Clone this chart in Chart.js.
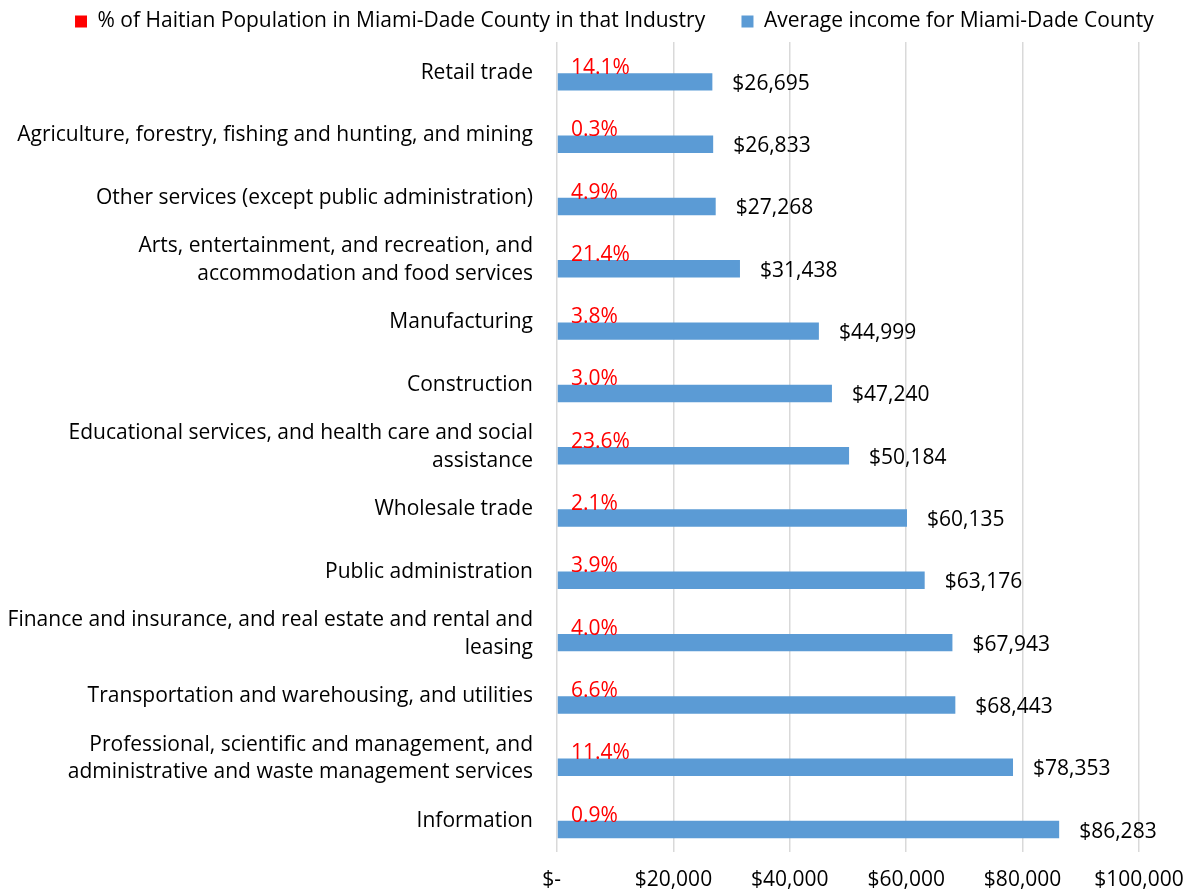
<!DOCTYPE html>
<html>
<head>
<meta charset="utf-8">
<script src="https://cdn.jsdelivr.net/npm/chart.js@4"></script>
<style>
  html, body { margin: 0; padding: 0; background: #fff; }
  #wrap { width: 1190px; height: 894px; position: relative; }
</style>
</head>
<body>
<div id="wrap"><canvas id="chart"></canvas></div>
<script>
// industries, top to bottom as shown
const industries = [
  'Retail trade',
  'Agriculture, forestry, fishing and hunting, and mining',
  'Other services (except public administration)',
  ['Arts, entertainment, and recreation, and', 'accommodation and food services'],
  'Manufacturing',
  'Construction',
  ['Educational services, and health care and social', 'assistance'],
  'Wholesale trade',
  'Public administration',
  ['Finance and insurance, and real estate and rental and', 'leasing'],
  'Transportation and warehousing, and utilities',
  ['Professional, scientific and management, and', 'administrative and waste management services'],
  'Information',
];

// % of Haitian population in Miami-Dade working in each industry
const haitianShare = [14.1, 0.3, 4.9, 21.4, 3.8, 3.0, 23.6, 2.1, 3.9, 4.0, 6.6, 11.4, 0.9];

// average income for Miami-Dade County ($)
const avgIncome = [26695, 26833, 27268, 31438, 44999, 47240, 50184, 60135, 63176, 67943, 68443, 78353, 86283];

const xTicks = [0, 20000, 40000, 60000, 80000, 100000];

const FONT = '"Open Sans", sans-serif';
const FS = 21;
const RED = '#ff0000';
const BLUE = '#5b9bd5';

function money(v) {
  return v === 0 ? '$-  ' : '$' + v.toLocaleString('en-US');
}

// draws the value labels the way Excel places them
const valueLabels = {
  id: 'valueLabels',
  afterDatasetsDraw(chart) {
    const ctx = chart.ctx;
    const x0 = chart.scales.x.getPixelForValue(0);
    ctx.save();
    ctx.font = FS + 'px ' + FONT;
    ctx.textAlign = 'left';
    ctx.textBaseline = 'middle';
    chart.getDatasetMeta(0).data.forEach((bar, i) => {
      ctx.fillStyle = RED;
      ctx.fillText(haitianShare[i].toFixed(1) + '%', x0 + 14, bar.y + 3.5);
    });
    chart.getDatasetMeta(1).data.forEach((bar, i) => {
      ctx.fillStyle = '#000';
      ctx.fillText(money(avgIncome[i]), bar.x + 20, bar.y + 2);
    });
    ctx.restore();
  }
};

new Chart(document.getElementById('chart'), {
  type: 'bar',
  data: {
    labels: industries,
    datasets: [
      {
        // the shares sit on the dollar axis, so these bars are far thinner than a pixel
        label: '% of Haitian Population in Miami-Dade County in that Industry',
        data: haitianShare,
        backgroundColor: 'rgba(255,0,0,0)',
        categoryPercentage: 0.56,
        barPercentage: 1,
      },
      {
        label: 'Average income for Miami-Dade County',
        data: avgIncome,
        backgroundColor: BLUE,
        categoryPercentage: 0.56,
        barPercentage: 1,
      },
    ],
  },
  options: {
    indexAxis: 'y',
    responsive: true,
    maintainAspectRatio: false,
    animation: false,
    layout: { padding: { left: 0, right: 0, top: 2, bottom: 0 } },
    plugins: {
      legend: {
        position: 'top',
        align: 'end',
        labels: {
          color: '#000',
          font: { family: FONT, size: FS },
          boxWidth: 12,
          boxHeight: 12,
          padding: 9,
          generateLabels(chart) {
            const items = Chart.defaults.plugins.legend.labels.generateLabels(chart);
            items[0].fillStyle = RED;
            items[0].strokeStyle = RED;
            items[0].lineWidth = 0;
            items[1].lineWidth = 0;
            items[0].text += '     ';
            items[1].text += '     ';
            return items;
          },
        },
      },
      tooltip: { enabled: false },
    },
    scales: {
      x: {
        min: 0,
        max: 100000,
        afterBuildTicks(scale) { scale.ticks = xTicks.map(v => ({ value: v })); },
        afterFit(scale) {
          scale.height = 42;
          scale.paddingLeft = 0;
          scale.paddingRight = 51;
        },
        grid: { color: '#d9d9d9', lineWidth: 1.5, drawTicks: false },
        border: { display: false },
        ticks: {
          color: '#000',
          font: { family: FONT, size: FS },
          padding: 15,
          maxRotation: 0,
          callback: v => money(v),
        },
      },
      y: {
        afterFit(scale) { scale.width = 557; },
        grid: { display: false, drawTicks: false },
        border: { display: false },
        ticks: {
          color: '#000',
          font: { family: FONT, size: FS, lineHeight: 1.33 },
          padding: 24,
          autoSkip: false,
        },
      },
    },
  },
  plugins: [valueLabels],
});
</script>
</body>
</html>
